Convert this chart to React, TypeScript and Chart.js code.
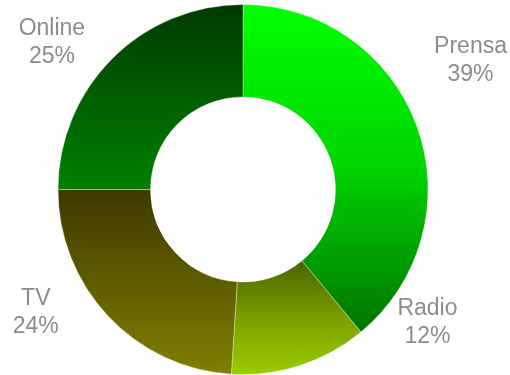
import React, { useEffect, useRef } from "react";
import { Chart, registerables } from "chart.js";

Chart.register(...registerables);

const categories = ["Prensa", "Radio", "TV", "Online"];
const shares = [39, 12, 24, 25];
const percentLabels = ["39%", "12%", "24%", "25%"];

// top -> bottom gradient stops for each slice
const gradientStops: string[][] = [
  ["#00ff00", "#00d400", "#007300"],
  ["#4a6400", "#78a000", "#9bcc00"],
  ["#3d3900", "#5e5c00", "#808000"],
  ["#003a00", "#005e00", "#008000"],
];

// label anchor offsets relative to the doughnut centre, in units of the outer radius
const labelOffsets: [number, number][] = [
  [1.23, -0.705],
  [0.997, 0.707],
  [-1.12, 0.656],
  [-1.033, -0.805],
];

function sliceBounds(cx: number, cy: number, rIn: number, rOut: number, a0: number, a1: number) {
  let minY = Infinity;
  let maxY = -Infinity;
  const n = 60;
  for (let i = 0; i <= n; i++) {
    const a = a0 + ((a1 - a0) * i) / n;
    for (const r of [rIn, rOut]) {
      const y = cy + r * Math.sin(a);
      if (y < minY) minY = y;
      if (y > maxY) maxY = y;
    }
  }
  return [minY, maxY];
}

const labelPlugin = {
  id: "outerLabels",
  afterDatasetsDraw(chart: any) {
    const meta = chart.getDatasetMeta(0);
    const arc = meta.data[0];
    if (!arc) return;
    const { x, y, outerRadius } = arc.getProps(["x", "y", "outerRadius"], true);
    const ctx = chart.ctx;
    ctx.save();
    ctx.fillStyle = "#8c8c8c";
    ctx.font = "23px 'Liberation Sans', Arial, sans-serif";
    ctx.textAlign = "center";
    ctx.textBaseline = "middle";
    categories.forEach((c, i) => {
      const lx = x + labelOffsets[i][0] * outerRadius;
      const ly = y + labelOffsets[i][1] * outerRadius + 2;
      ctx.fillText(c, lx, ly - 14);
      ctx.fillText(percentLabels[i], lx, ly + 14);
    });
    ctx.restore();
  },
};

export default function App() {
  const ref = useRef<HTMLCanvasElement | null>(null);
  useEffect(() => {
    if (!ref.current) return;
    const total = shares.reduce((s, v) => s + v, 0);
    const chart = new Chart(ref.current, {
      type: "doughnut",
      data: {
        labels: categories,
        datasets: [
          {
            data: shares,
            backgroundColor: (c: any) => {
              const ch = c.chart;
              const area = ch.chartArea;
              const ctrl = ch.getDatasetMeta(0).controller as any;
              if (!area || !ctrl || !ctrl.outerRadius) return gradientStops[c.dataIndex][1];
              const cx = (area.left + area.right) / 2;
              const cy = (area.top + area.bottom) / 2;
              let before = 0;
              for (let i = 0; i < c.dataIndex; i++) before += shares[i];
              const a0 = -Math.PI / 2 + (before / total) * Math.PI * 2;
              const a1 = a0 + (shares[c.dataIndex] / total) * Math.PI * 2;
              const [y0, y1] = sliceBounds(cx, cy, ctrl.innerRadius, ctrl.outerRadius, a0, a1);
              const g = ch.ctx.createLinearGradient(0, y0, 0, y1);
              const st = gradientStops[c.dataIndex];
              st.forEach((col, k) => g.addColorStop(k / (st.length - 1), col));
              return g;
            },
            borderColor: "rgba(255,255,255,0.35)",
            borderWidth: 1,
          },
        ],
      },
      options: {
        responsive: true,
        maintainAspectRatio: false,
        animation: false,
        cutout: "50%",
        layout: { padding: { top: 4, left: 0, right: 24, bottom: 0 } },
        plugins: {
          legend: { display: false },
          tooltip: { enabled: false },
        },
      },
      plugins: [labelPlugin],
    });
    return () => chart.destroy();
  }, []);
  return (
    <div style={{ width: 510, height: 375, position: "relative" }}>
      <style>{"body{margin:0;}"}</style>
      <canvas ref={ref} />
    </div>
  );
}
